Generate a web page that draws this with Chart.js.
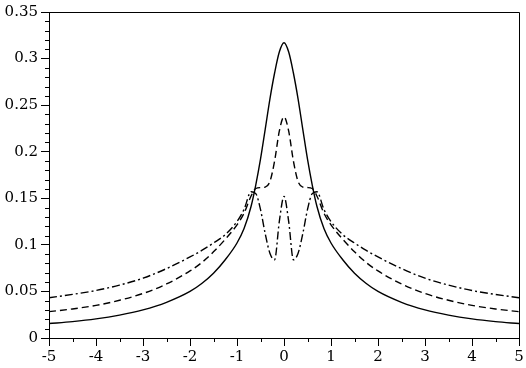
<!DOCTYPE html>
<html>
<head>
<meta charset="utf-8">
<script src="https://cdn.jsdelivr.net/npm/chart.js@4.4.1/dist/chart.umd.min.js"></script>
<style>
  html, body { margin: 0; padding: 0; background: #fff; }
  #wrap { width: 526px; height: 368px; }
</style>
</head>
<body>
<div id="wrap"><canvas id="chart" width="526" height="368"></canvas></div>
<script>
// x positions where the curves were read
const xValues = [-5, -4.5, -4, -3.5, -3, -2.5, -2, -1.75, -1.5, -1.25, -1, -0.85, -0.7, -0.6, -0.5, -0.4, -0.3, -0.2, -0.1, 0,
                 0.1, 0.2, 0.3, 0.4, 0.5, 0.6, 0.7, 0.85, 1, 1.25, 1.5, 1.75, 2, 2.5, 3, 3.5, 4, 4.5, 5];

// solid curve
const solidValues = [0.0155, 0.0176, 0.0205, 0.0246, 0.0302, 0.0383, 0.0500, 0.0585, 0.0695, 0.0840, 0.1020, 0.1175, 0.1415, 0.1645, 0.1920, 0.2240, 0.2565, 0.2845, 0.3070, 0.3170,
                     0.3070, 0.2845, 0.2565, 0.2240, 0.1920, 0.1645, 0.1415, 0.1175, 0.1020, 0.0840, 0.0695, 0.0585, 0.0500, 0.0383, 0.0302, 0.0246, 0.0205, 0.0176, 0.0155];

// dashed curve
const dashedValues = [0.0283, 0.0312, 0.0350, 0.0405, 0.0478, 0.0580, 0.0720, 0.0810, 0.0925, 0.1060, 0.1215, 0.1340, 0.1525, 0.1605, 0.1615, 0.1620, 0.1680, 0.1900, 0.2220, 0.2375,
                      0.2220, 0.1900, 0.1680, 0.1620, 0.1615, 0.1605, 0.1525, 0.1340, 0.1215, 0.1060, 0.0925, 0.0810, 0.0720, 0.0580, 0.0478, 0.0405, 0.0350, 0.0312, 0.0283];

// dash-dot curve
const dashDotValues = [0.0432, 0.0468, 0.0510, 0.0568, 0.0642, 0.0745, 0.0870, 0.0940, 0.1020, 0.1110, 0.1250, 0.1380, 0.1570, 0.1550, 0.1380, 0.1120, 0.0910, 0.0840, 0.1250, 0.1520,
                       0.1250, 0.0840, 0.0910, 0.1120, 0.1380, 0.1550, 0.1570, 0.1380, 0.1250, 0.1110, 0.1020, 0.0940, 0.0870, 0.0745, 0.0642, 0.0568, 0.0510, 0.0468, 0.0432];

const xTicks = [-5, -4, -3, -2, -1, 0, 1, 2, 3, 4, 5];
const yTicks = [0, 0.05, 0.1, 0.15, 0.2, 0.25, 0.3, 0.35];

const toPoints = (ys) => xValues.map((x, i) => ({ x: x, y: ys[i] }));

// Liberation Serif here draws its digits sans, so DejaVu Serif is used instead
Chart.defaults.font.family = "'DejaVu Serif', serif";
Chart.defaults.font.size = 15;
Chart.defaults.color = "#000";

// frame on top/right plus minor ticks
const framePlugin = {
    id: "frame",
    afterDraw(chart) {
        const { ctx, chartArea: a, scales } = chart;
        ctx.save();
        ctx.strokeStyle = "#000";
        ctx.lineWidth = 1;
        ctx.beginPath();
        ctx.moveTo(a.left, a.top + 0.5);
        ctx.lineTo(a.right + 0.5, a.top + 0.5);
        ctx.lineTo(a.right + 0.5, a.bottom);
        ctx.stroke();
        ctx.beginPath();
        for (let v = 0.01; v < 0.35; v += 0.01) {
            const r = Math.round(v * 100);
            if (r % 5 === 0) continue;
            const py = Math.round(scales.y.getPixelForValue(r / 100)) + 0.5;
            ctx.moveTo(a.left - 4, py);
            ctx.lineTo(a.left, py);
        }
        for (let v = -4.5; v < 5; v += 1) {
            const px = Math.round(scales.x.getPixelForValue(v)) + 0.5;
            ctx.moveTo(px, a.bottom);
            ctx.lineTo(px, a.bottom + 4);
        }
        ctx.stroke();
        ctx.restore();
    }
};

const common = { pointRadius: 0, borderColor: "#000", borderWidth: 1.4, fill: false, cubicInterpolationMode: "monotone" };

new Chart(document.getElementById("chart").getContext("2d"), {
    type: "line",
    data: {
        datasets: [
            Object.assign({ label: "solid", data: toPoints(solidValues) }, common),
            Object.assign({ label: "dashed", data: toPoints(dashedValues), borderDash: [7, 4] }, common),
            Object.assign({ label: "dashdot", data: toPoints(dashDotValues), borderDash: [8, 3, 2, 3] }, common)
        ]
    },
    options: {
        responsive: false,
        animation: false,
        layout: { padding: { top: 9, right: 7, left: 0, bottom: 0 } },
        plugins: { legend: { display: false }, tooltip: { enabled: false } },
        scales: {
            x: {
                type: "linear",
                min: -5,
                max: 5,
                afterBuildTicks: (s) => { s.ticks = xTicks.map(v => ({ value: v })); },
                afterFit: (s) => { s.height = 30; },
                ticks: { color: "#000", padding: 2, maxRotation: 0, autoSkip: false, callback: v => String(v) },
                grid: { drawOnChartArea: false, tickLength: 8, color: "#000", tickColor: "#000" },
                border: { color: "#000", width: 1 }
            },
            y: {
                type: "linear",
                min: 0,
                max: 0.35,
                afterBuildTicks: (s) => { s.ticks = yTicks.map(v => ({ value: v })); },
                afterFit: (s) => { s.width = 49; },
                ticks: { color: "#000", padding: 3, autoSkip: false, callback: v => String(+v.toFixed(2)) },
                grid: { drawOnChartArea: false, tickLength: 8, color: "#000", tickColor: "#000" },
                border: { color: "#000", width: 1 }
            }
        }
    },
    plugins: [framePlugin]
});
</script>
</body>
</html>
